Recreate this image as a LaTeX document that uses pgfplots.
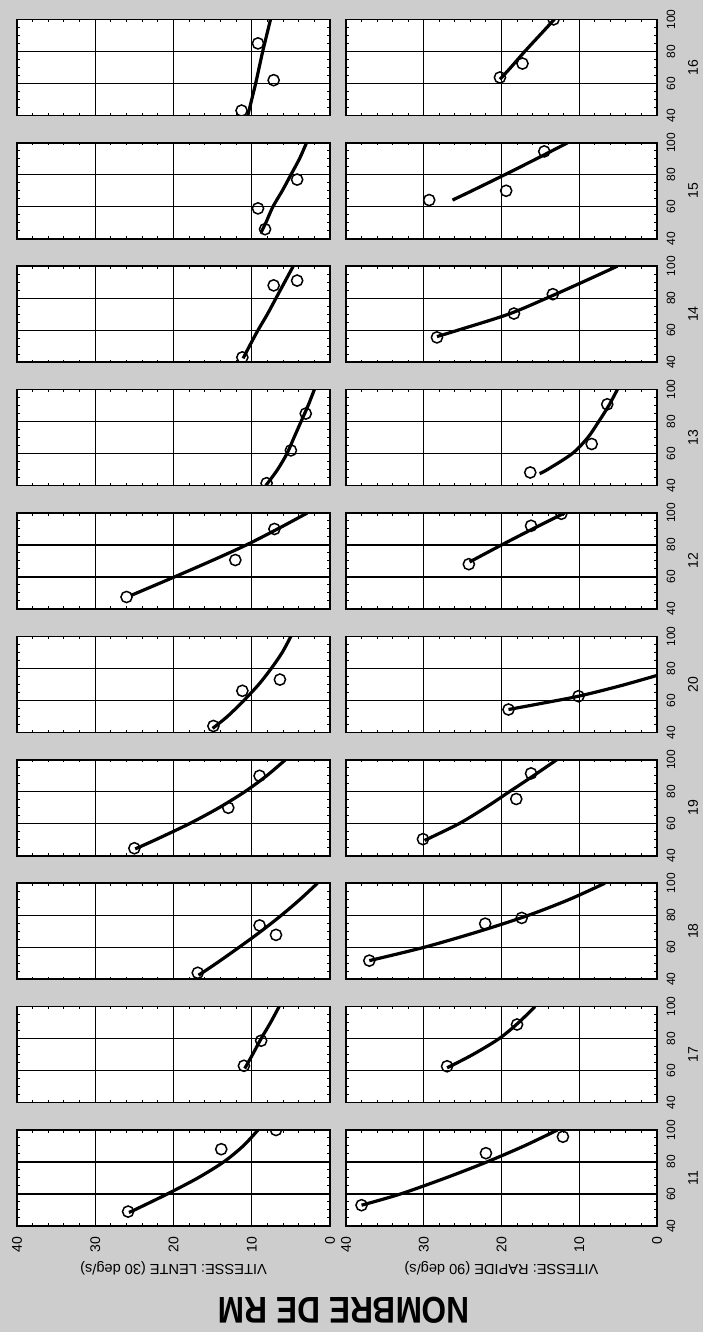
\documentclass[border=0pt]{standalone}
\usepackage{graphicx}
\usepackage{fontspec}
\setmainfont{Liberation Sans}
\usepackage{pgfplots}
\pgfplotsset{compat=1.18}
\definecolor{scan}{RGB}{205,205,205}
\pgfplotsset{
  panel/.style={
    scale only axis, width=48pt, anchor=south west,
    xmin=40, xmax=100, ymin=0, ymax=40,
    xtick={40,60,80,100}, ytick={0,10,20,30,40},
    minor x tick num=3, minor y tick num=4,
    grid=major, major grid style={black, line width=0.55pt},
    tick align=inside, major tick length=2pt, minor tick length=1.3pt,
    every tick/.style={black, line width=0.5pt},
    axis line style={line width=0.75pt},
    axis background/.style={fill=white},
    clip marker paths=true,
    xticklabels={}, yticklabels={},
    /pgf/number format/assume math mode=true,
  },
  lente/.style={panel, height=156.5pt},
  rapide/.style={panel, height=155.5pt},
  bottomrow/.style={
    xticklabels={40,60,80,100},
    xticklabel style={font=\fontsize{6}{7}\selectfont, anchor=center, yshift=-7pt},
    xlabel={#1},
    xlabel style={font=\fontsize{7}{8}\selectfont, at={(axis description cs:0.5,-0.1158)}, anchor=center},
  },
  firstcol/.style={
    yticklabels={0,10,20,30,40},
    yticklabel style={font=\fontsize{7}{8}\selectfont, anchor=east, xshift=-1.8pt},
    ylabel={#1},
    ylabel style={font=\fontsize{7.3}{8}\selectfont, at={(axis description cs:-0.4375,0.5)}, anchor=center},
  },
  curve/.style={black, line width=1.6pt, smooth, no markers},
  pts/.style={black, only marks, mark=o, mark size=2.8pt, mark options={line width=0.75pt}},
}
\begin{document}
\rotatebox{90}{%
\begin{tikzpicture}
\fill[scan] (0,0) rectangle (666pt,351.5pt);
% ===== Top row: VITESSE LENTE =====
\begin{axis}[lente, firstcol={VITESSE: LENTE (30 deg/s)}, at={(53pt,186.5pt)}]
\addplot[curve] coordinates {(48.5,25.7)(50,25.0)(60,20.8)(70,16.9)(80,13.6)(90,11.1)(100,9.2)};
\addplot[pts] coordinates {(49,25.8)(88,13.9)(100,6.9)};
\end{axis}
\begin{axis}[lente, at={(114.7pt,186.5pt)}]
\addplot[curve] coordinates {(61.3,10.9)(70,9.9)(80,8.8)(90,7.6)(100,6.5)};
\addplot[pts] coordinates {(63,11.0)(78.7,8.8)};
\end{axis}
\begin{axis}[lente, at={(176.4pt,186.5pt)}]
\addplot[curve] coordinates {(42.5,16.8)(50,14.5)(60,11.6)(70,8.8)(80,6.2)(90,3.8)(100,1.6)};
\addplot[pts] coordinates {(44,16.9)(73.6,9.0)(67.7,6.9)};
\end{axis}
\begin{axis}[lente, at={(238.1pt,186.5pt)}]
\addplot[curve] coordinates {(44.3,24.9)(50,22.3)(60,18.0)(70,14.2)(80,10.9)(90,8.1)(100,5.7)};
\addplot[pts] coordinates {(44.7,25.0)(70,13.0)(90,9.0)};
\end{axis}
\begin{axis}[lente, at={(299.8pt,186.5pt)}]
\addplot[curve] coordinates {(42.5,15.0)(50,13.1)(60,11.0)(70,9.1)(80,7.5)(90,6.1)(100,5.0)};
\addplot[pts] coordinates {(44,14.9)(66,11.2)(73,6.4)};
\end{axis}
\begin{axis}[lente, at={(361.5pt,186.5pt)}]
\addplot[curve] coordinates {(48.6,25.4)(50,24.7)(60,19.9)(70,15.2)(80,10.7)(90,6.7)(100,2.9)};
\addplot[pts] coordinates {(47.5,26.0)(70.6,12.1)(90,7.1)};
\end{axis}
\begin{axis}[lente, at={(423.2pt,186.5pt)}]
\addplot[curve] coordinates {(40,8.2)(50,6.7)(60,5.5)(70,4.6)(80,3.7)(90,2.8)(100,2.0)};
\addplot[pts] coordinates {(41.5,8.1)(62,5.0)(85,3.1)};
\end{axis}
\begin{axis}[lente, at={(484.9pt,186.5pt)}]
\addplot[curve] coordinates {(42.4,11.1)(50,10.3)(60,9.2)(70,8.0)(80,6.9)(90,5.8)(100,4.7)};
\addplot[pts] coordinates {(43,11.2)(88,7.2)(91,4.2)};
\end{axis}
\begin{axis}[lente, at={(546.6pt,186.5pt)}]
\addplot[curve] coordinates {(44,8.8)(50,8.2)(60,7.3)(70,6.1)(80,5.0)(90,3.9)(100,3.0)};
\addplot[pts] coordinates {(46,8.3)(59,9.2)(77,4.2)};
\end{axis}
\begin{axis}[lente, at={(608.3pt,186.5pt)}]
\addplot[curve] coordinates {(40,10.5)(50,10.0)(60,9.5)(70,9.05)(80,8.6)(90,8.1)(100,7.6)};
\addplot[pts] coordinates {(43,11.3)(62,7.2)(85,9.2)};
\end{axis}
% ===== Bottom row: VITESSE RAPIDE =====
\begin{axis}[rapide, firstcol={VITESSE: RAPIDE (90 deg/s)}, bottomrow={11}, at={(53pt,23pt)}]
\addplot[curve] coordinates {(53,38)(60,33.0)(70,27.2)(80,21.9)(90,17.1)(100,12.8)};
\addplot[pts] coordinates {(53,38.0)(85.5,22.0)(95.8,12.1)};
\end{axis}
\begin{axis}[rapide, bottomrow={17}, at={(114.7pt,23pt)}]
\addplot[curve] coordinates {(61.7,27.0)(70,23.7)(80,20.3)(90,17.8)(100,15.7)};
\addplot[pts] coordinates {(62.7,27.0)(88.8,18.0)};
\end{axis}
\begin{axis}[rapide, bottomrow={18}, at={(176.4pt,23pt)}]
\addplot[curve] coordinates {(51.6,37.0)(60,29.9)(70,22.8)(80,16.5)(90,11.2)(100,6.7)};
\addplot[pts] coordinates {(51.6,37.0)(74.7,22.1)(78.3,17.4)};
\end{axis}
\begin{axis}[rapide, bottomrow={19}, at={(238.1pt,23pt)}]
\addplot[curve] coordinates {(49.6,29.9)(60,25.5)(70,22.1)(80,19.0)(90,15.9)(100,12.9)};
\addplot[pts] coordinates {(50.4,30.1)(75.5,18.1)(91.5,16.2)};
\end{axis}
\begin{axis}[rapide, bottomrow={20}, at={(299.8pt,23pt)}]
\addplot[curve] coordinates {(54.3,19.1)(58,15.0)(62.6,10.1)(69,4.8)(75.6,0)};
\addplot[pts] coordinates {(54.3,19.1)(62.6,10.1)};
\end{axis}
\begin{axis}[rapide, bottomrow={12}, at={(361.5pt,23pt)}]
\addplot[curve] coordinates {(69.4,24.1)(80,20.0)(90,16.0)(100,11.9)};
\addplot[pts] coordinates {(68,24.2)(92,16.2)(99.5,12.3)};
\end{axis}
\begin{axis}[rapide, bottomrow={13}, at={(423.2pt,23pt)}]
\addplot[curve] coordinates {(47.5,15.1)(50,14.1)(60,10.9)(70,8.9)(80,7.5)(90,6.2)(100,5.1)};
\addplot[pts] coordinates {(48.2,16.3)(66,8.4)(90.8,6.4)};
\end{axis}
\begin{axis}[rapide, bottomrow={14}, at={(484.9pt,23pt)}]
\addplot[curve] coordinates {(56,28.3)(60,25.6)(70,19.1)(80,14.2)(90,9.6)(100,5.1)};
\addplot[pts] coordinates {(55.5,28.3)(70.4,18.4)(82.5,13.4)};
\end{axis}
\begin{axis}[rapide, bottomrow={15}, at={(546.6pt,23pt)}]
\addplot[curve] coordinates {(64.2,26.3)(70,23.8)(80,19.6)(90,15.5)(100,11.5)};
\addplot[pts] coordinates {(64.2,29.3)(70,19.4)(94.6,14.5)};
\end{axis}
\begin{axis}[rapide, bottomrow={16}, at={(608.3pt,23pt)}]
\addplot[curve] coordinates {(62.5,20.2)(70,18.8)(80,17.0)(90,15.1)(100,13.2)};
\addplot[pts] coordinates {(63.7,20.2)(72.4,17.3)(100,13.3)};
\end{axis}
\node[rotate=90, font=\fontsize{18.6}{20}\selectfont\bfseries] at (11pt,179.5pt) {\scalebox{0.85}[1]{NOMBRE DE RM}};
\pgfresetboundingbox
\path[use as bounding box] (0,0) rectangle (666pt,351.5pt);
\end{tikzpicture}%
}
\end{document}
